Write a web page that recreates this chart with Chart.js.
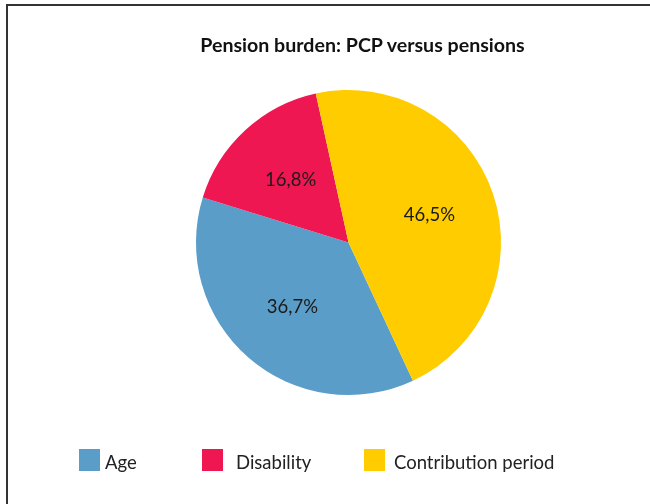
<!DOCTYPE html>
<html>
<head>
<meta charset="utf-8">
<script src="https://cdn.jsdelivr.net/npm/chart.js@4/dist/chart.umd.min.js"></script>
<style>
  html, body { margin: 0; padding: 0; background: #fff; overflow: hidden; }
  #wrap { position: relative; width: 650px; height: 504px; }
  #frame { position: absolute; left: 6px; top: 4px; width: 700px; height: 600px; border: 2px solid #333; box-sizing: border-box; }
  #title { position: absolute; left: 0; width: 725px; top: 33px; text-align: center; font-family: Lato, "Open Sans", sans-serif; font-weight: bold; font-size: 19.6px; color: #111; }
  #c { position: absolute; left: 0; top: 0; }
  #legend { position: absolute; top: 449px; left: 0; width: 650px; height: 24px; font-family: Lato, "Open Sans", sans-serif; font-size: 18.5px; color: #222; }
  .item { position: absolute; top: 0; display: flex; align-items: flex-start; height: 22px; }
  .box { width: 21px; height: 22px; display: inline-block; }
  .lbl { display: inline-block; line-height: 22px; position: relative; top: 2px; }
</style>
</head>
<body>
<div id="wrap">
  <div id="frame"></div>
  <canvas id="c" width="650" height="504"></canvas>
  <div id="title">Pension burden: PCP versus pensions</div>
  <div id="legend"></div>
</div>
<script>
const categories = ['Age', 'Disability', 'Contribution period'];
const shares = [36.7, 16.8, 46.5];
const sliceColors = ['#5A9DC8', '#EE1752', '#FFCC00'];

const legendBoxX = [79, 202, 364];
const legendTextGap = [5, 13, 9];

const legendEl = document.getElementById('legend');
categories.forEach((name, i) => {
  const it = document.createElement('div');
  it.className = 'item';
  it.style.left = legendBoxX[i] + 'px';
  const b = document.createElement('span');
  b.className = 'box';
  b.style.background = sliceColors[i];
  const t = document.createElement('span');
  t.className = 'lbl';
  t.style.marginLeft = legendTextGap[i] + 'px';
  t.textContent = name;
  it.appendChild(b); it.appendChild(t);
  legendEl.appendChild(it);
});

const sliceLabels = {
  id: 'sliceLabels',
  afterDatasetsDraw(chart) {
    const ctx = chart.ctx;
    const meta = chart.getDatasetMeta(0);
    ctx.save();
    ctx.font = '18.5px Lato, "Open Sans", sans-serif';
    ctx.fillStyle = '#1a1a1a';
    ctx.textAlign = 'center';
    ctx.textBaseline = 'middle';
    meta.data.forEach((arc, i) => {
      const p = arc.getProps(['x', 'y', 'startAngle', 'endAngle', 'outerRadius'], true);
      const mid = (p.startAngle + p.endAngle) / 2;
      const r = p.outerRadius * 0.56;
      const txt = shares[i].toFixed(1).replace('.', ',') + '%';
      ctx.fillText(txt, p.x + Math.cos(mid) * r, p.y + Math.sin(mid) * r);
    });
    ctx.restore();
  }
};

new Chart(document.getElementById('c'), {
  type: 'pie',
  data: {
    labels: categories,
    datasets: [{
      data: shares,
      backgroundColor: sliceColors,
      borderWidth: 0
    }]
  },
  options: {
    responsive: false,
    animation: false,
    rotation: 155,
    layout: { padding: { left: 196, right: 149, top: 90, bottom: 109 } },
    plugins: {
      legend: { display: false },
      title: { display: false },
      tooltip: { enabled: false }
    }
  },
  plugins: [sliceLabels]
});
</script>
</body>
</html>
